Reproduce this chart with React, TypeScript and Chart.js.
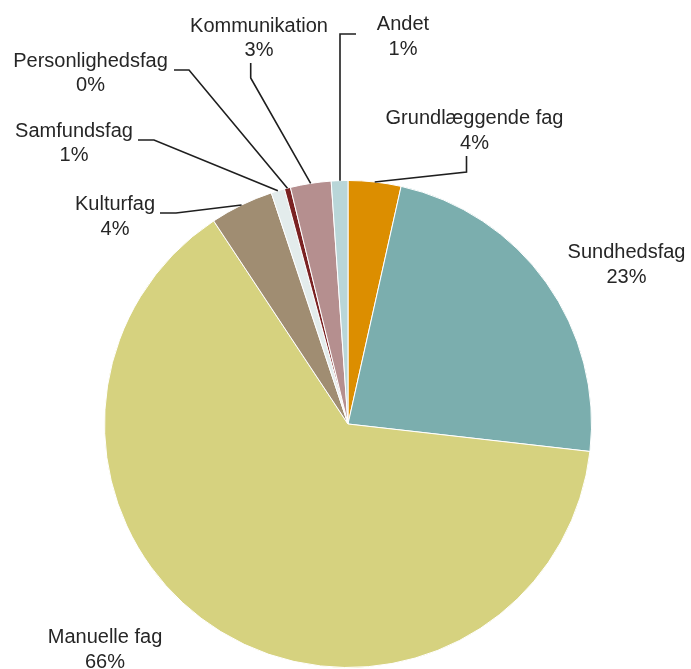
import React, { useEffect, useRef } from "react";
import { Chart, registerables } from "chart.js";

Chart.register(...registerables);

const categories = [
  "Grundlæggende fag",
  "Sundhedsfag",
  "Manuelle fag",
  "Kulturfag",
  "Samfundsfag",
  "Personlighedsfag",
  "Kommunikation",
  "Andet",
];
const shares = [3.5, 23.3, 63.9, 4.2, 0.9, 0.4, 2.7, 1.1];
const percentLabels = ["4%", "23%", "66%", "4%", "1%", "0%", "3%", "1%"];
const colors = [
  "#DC8E00",
  "#7BAEAE",
  "#D6D27F",
  "#A08D72",
  "#E3ECEC",
  "#7A2222",
  "#B58F8F",
  "#B9D6D8",
];

// label placement (center x, first baseline y) and leader line points
const labelLayout: { x: number; y: number; line?: number[][] }[] = [
  { x: 474.5, y: 124, line: [[466.5, 172], [466.5, 156]] },
  { x: 626.5, y: 258 },
  { x: 105, y: 643 },
  { x: 115, y: 210, line: [[176, 213], [160, 213]] },
  { x: 74, y: 136.5, line: [[154, 140], [138, 140]] },
  { x: 90.5, y: 66.5, line: [[189, 70], [174, 70]] },
  { x: 259, y: 31.5, line: [[250.7, 78], [250.7, 63]] },
  { x: 403, y: 30, line: [[340, 34], [356, 34]] },
];

const labelPlugin = {
  id: "pieLabels",
  afterDraw(chart: any) {
    const ctx = chart.ctx;
    const meta = chart.getDatasetMeta(0);
    ctx.save();
    ctx.strokeStyle = "#1f1f1f";
    ctx.lineWidth = 1.6;
    meta.data.forEach((arc: any, i: number) => {
      const L = labelLayout[i];
      if (L.line) {
        const p = arc.getProps(["x", "y", "startAngle", "endAngle", "outerRadius"], true);
        const a = (p.startAngle + p.endAngle) / 2;
        const ax = p.x + Math.cos(a) * p.outerRadius;
        const ay = p.y + Math.sin(a) * p.outerRadius;
        ctx.beginPath();
        if (i === 7) {
          ctx.moveTo(L.line[0][0], ay);
        } else {
          ctx.moveTo(ax, ay);
        }
        L.line.forEach((pt) => ctx.lineTo(pt[0], pt[1]));
        ctx.stroke();
      }
      ctx.fillStyle = "#262626";
      ctx.font = '20px "Liberation Sans", Arial, sans-serif';
      ctx.textAlign = "center";
      ctx.textBaseline = "alphabetic";
      ctx.fillText(categories[i], L.x, L.y);
      ctx.fillText(percentLabels[i], L.x, L.y + 24.5);
    });
    ctx.restore();
  },
};

export default function App() {
  const ref = useRef<HTMLCanvasElement>(null);
  useEffect(() => {
    if (!ref.current) return;
    const chart = new Chart(ref.current, {
      type: "pie",
      data: {
        labels: categories,
        datasets: [
          {
            data: shares,
            backgroundColor: colors,
            borderColor: "#ffffff",
            borderWidth: 1,
          },
        ],
      },
      options: {
        responsive: false,
        animation: false,
        layout: { padding: { left: 104, right: 99, top: 180, bottom: 1 } },
        plugins: {
          legend: { display: false },
          tooltip: { enabled: false },
        },
      },
      plugins: [labelPlugin],
    });
    return () => chart.destroy();
  }, []);
  return (
    <div style={{ position: "fixed", left: 0, top: 0, width: 691, height: 669, background: "#fff" }}>
      <canvas ref={ref} width={691} height={669} style={{ width: 691, height: 669 }} />
    </div>
  );
}
